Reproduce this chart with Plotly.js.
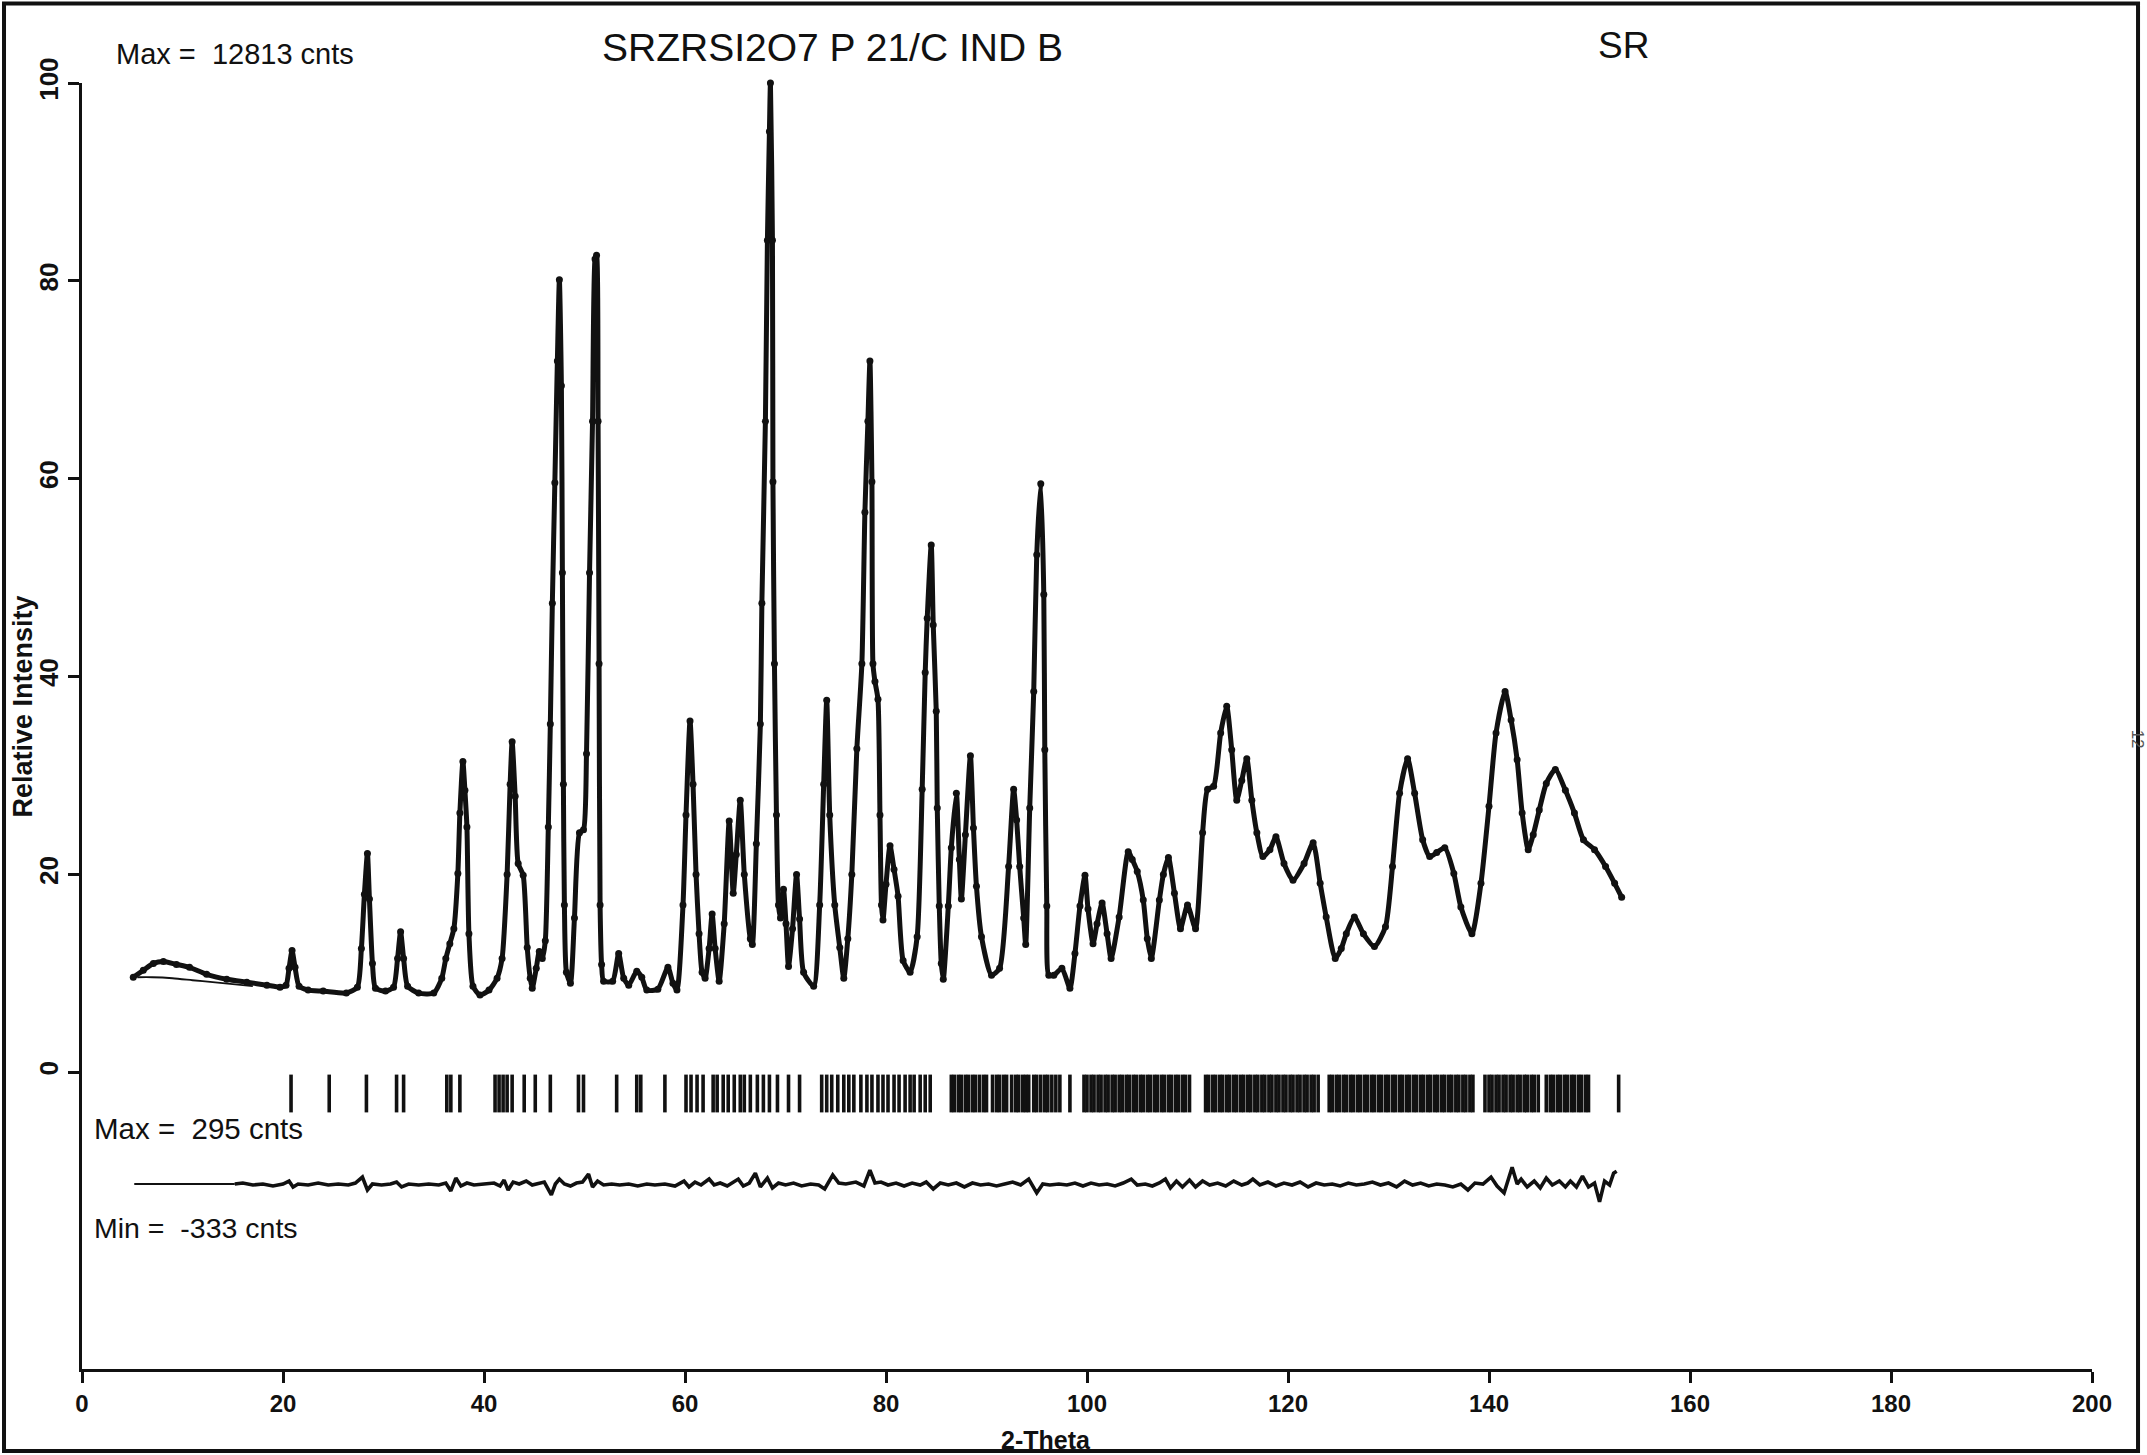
<!DOCTYPE html>
<html>
<head>
<meta charset="utf-8">
<script src="https://cdn.plot.ly/plotly-3.0.1.min.js"></script>
<style>html,body{margin:0;padding:0;background:#fff;}</style>
</head>
<body>
<div id="chart" style="width:2147px;height:1455px;"></div>
<script>
// Observed profile (2-Theta, relative intensity)
const twoTheta = [
  5.1,6.1,7.1,8.1,9.4,10.7,12.4,14.4,16.4,18.4,
  19.7,20.3,20.6,20.9,21.2,21.6,22.5,24.0,26.3,27.4,
  27.8,28.1,28.4,28.6,28.9,29.2,30.2,31.0,31.4,31.7,
  32.0,32.4,33.5,35.0,35.8,36.2,36.6,37.0,37.4,37.6,
  37.9,38.1,38.3,38.5,38.9,39.6,40.5,41.3,41.8,42.3,
  42.6,42.8,43.1,43.4,43.9,44.3,44.6,44.8,45.2,45.5,
  45.8,46.1,46.4,46.6,46.8,47.05,47.3,47.5,47.7,47.8,
  47.9,48.0,48.2,48.6,49.0,49.5,49.9,50.2,50.5,50.8,
  51.05,51.2,51.35,51.45,51.55,51.7,51.9,52.8,53.4,53.9,
  54.4,55.2,55.7,56.2,57.3,58.3,58.8,59.2,59.8,60.1,
  60.5,60.8,61.1,61.4,61.7,62.0,62.4,62.7,63.0,63.4,
  63.9,64.4,64.8,65.1,65.5,65.9,66.5,66.7,67.1,67.5,
  67.65,68.0,68.2,68.4,68.5,68.7,68.75,68.9,69.1,69.3,
  69.5,69.8,70.05,70.3,70.7,71.1,71.4,71.8,72.8,73.4,
  73.8,74.1,74.4,74.9,75.4,75.8,76.2,76.6,77.1,77.6,
  77.9,78.2,78.4,78.6,78.7,78.9,79.2,79.4,79.55,79.7,
  80.0,80.4,80.8,81.2,81.7,82.4,83.1,83.6,83.9,84.1,
  84.5,84.7,85.0,85.1,85.3,85.5,85.7,86.2,86.5,87.0,
  87.3,87.5,87.9,88.4,88.7,89.0,89.5,90.5,91.3,92.2,
  92.7,93.0,93.3,93.7,93.9,94.3,94.7,95.0,95.4,95.7,
  95.8,96.0,96.2,96.7,97.5,98.3,98.8,99.3,99.8,100.1,
  100.6,101.0,101.5,102.0,102.4,103.2,104.1,104.5,105.0,105.6,
  106.0,106.4,107.2,107.6,108.1,108.7,109.3,110.0,110.8,111.5,
  112.0,112.6,113.3,113.9,114.4,114.9,115.4,115.9,116.4,116.9,
  117.5,118.2,118.8,119.6,120.5,121.6,122.5,123.2,123.8,124.7,
  125.3,125.8,126.6,127.5,128.6,129.7,130.4,131.1,131.9,132.6,
  133.4,134.1,134.8,135.6,136.5,137.2,138.3,139.2,140.0,140.7,
  141.6,142.2,142.8,143.3,143.9,144.4,145.0,145.7,146.6,147.6,
  148.5,149.4,150.5,151.6,152.5,153.2
];
const observed = [
  9.6,10.3,11.0,11.2,10.9,10.6,9.9,9.4,9.1,8.8,
  8.6,8.8,10.5,12.3,10.6,8.7,8.3,8.2,8.0,8.6,
  12.5,18.0,22.1,17.5,11.0,8.5,8.2,8.6,11.5,14.2,
  11.5,8.7,8.0,8.0,9.5,11.5,13.0,14.5,20.1,26.2,
  31.4,28.5,24.8,14.0,8.7,7.8,8.3,9.5,11.5,20.0,
  29.1,33.4,27.9,21.1,19.9,12.6,9.5,8.5,10.5,12.2,
  11.5,13.3,24.8,35.2,47.4,59.6,71.9,80.1,69.4,50.5,
  29.1,16.9,10.1,9.0,15.6,24.2,24.5,32.2,50.5,65.8,
  82.2,82.6,65.8,41.3,16.9,10.9,9.2,9.2,12.0,9.5,
  8.8,10.2,9.6,8.3,8.4,10.6,9.0,8.3,16.9,26.0,
  35.5,29.1,20.0,14.0,10.1,9.5,12.5,16.0,12.5,9.2,
  15.0,25.4,18.1,22.0,27.5,20.0,13.5,12.9,23.1,35.2,
  47.4,65.8,84.1,95.1,100,84.1,59.7,41.3,26.0,16.9,
  15.6,18.5,15.0,10.7,14.5,20.0,15.5,10.1,8.7,16.9,
  29.1,37.6,26.0,16.9,12.6,9.5,13.5,20.0,32.7,41.3,
  56.6,65.8,71.9,59.7,41.3,39.5,37.7,26.0,16.9,15.4,
  19.0,22.9,20.5,17.8,11.3,10.1,13.7,28.6,40.4,45.9,
  53.3,45.2,36.5,26.7,16.8,11.0,9.4,16.8,22.7,28.2,
  21.5,17.5,24.0,32.0,24.7,18.8,13.7,9.8,10.5,20.8,
  28.6,25.5,20.8,15.6,12.9,26.7,38.5,52.3,59.5,48.3,
  32.6,16.8,9.8,9.8,10.5,8.5,12.0,16.8,19.9,16.5,
  13.0,15.0,17.1,14.0,11.5,15.7,22.3,21.5,20.3,17.4,
  13.5,11.5,17.4,20.0,21.7,18.1,14.5,16.9,14.5,24.2,
  28.6,28.9,34.3,37.0,32.6,27.5,29.5,31.7,27.5,24.2,
  21.8,22.5,23.8,21.1,19.4,21.1,23.2,19.1,15.7,11.5,
  12.5,14.0,15.7,14.0,12.7,14.7,20.8,28.2,31.7,28.2,
  23.5,21.8,22.2,22.7,20.1,16.7,14.0,19.1,26.9,34.3,
  38.5,35.6,31.6,26.2,22.5,24.0,26.5,29.2,30.6,28.5,
  26.2,23.5,22.5,20.8,19.1,17.7
];

// Calculated profile where it separates from the observed points (low angle)
const calcTwoTheta = [5.5, 7.0, 9.0, 11.0, 13.0, 15.0, 17.0];
const calculated   = [9.6, 9.6, 9.5, 9.3, 9.1, 8.9, 8.7];

// Difference curve (plotted offset below)
const diffTwoTheta = [
  5.2,10,15.2,16,17,18,19,20,20.6,21.0,
  21.5,22.5,23.5,24.5,25.5,26.5,27.2,27.9,28.4,28.9,
  29.8,30.7,31.3,31.8,32.5,33.5,34.5,35.5,36.2,36.7,
  37.2,37.7,38.3,39.0,40.0,41.0,41.6,42.0,42.4,42.9,
  43.5,44.2,44.8,45.5,46.0,46.7,47.1,47.5,48.0,48.6,
  49.2,49.8,50.4,50.8,51.3,51.9,52.7,53.5,54.4,55.3,
  56.2,57.0,58.0,59.0,59.9,60.4,61.0,61.6,62.4,62.9,
  63.5,64.2,65.3,65.8,66.4,67.0,67.5,68.2,68.7,69.3,
  70.0,70.8,71.6,72.5,73.3,73.9,74.7,75.3,76.0,77.0,
  77.8,78.4,78.9,79.5,80.2,81.0,81.8,82.6,83.4,84.0,
  84.7,85.4,86.2,87.0,87.8,88.6,89.4,90.2,91.0,91.8,
  92.6,93.4,94.2,95.0,95.6,96.3,97.2,98.0,98.8,99.6,
  100.4,101.2,102.0,102.8,103.6,104.4,105.0,105.8,106.5,107.2,
  107.8,108.3,108.9,109.5,110.2,110.8,111.5,112.2,113.0,113.8,
  114.6,115.4,116.0,116.5,117.2,118.0,118.8,119.6,120.4,121.2,
  122.0,122.8,123.6,124.4,125.2,126.0,126.8,127.6,128.4,129.2,
  130.0,130.8,131.6,132.4,133.2,134.0,134.8,135.6,136.4,137.2,
  137.9,138.6,139.4,140.2,140.8,141.5,142.3,142.8,143.2,143.8,
  144.5,145.1,145.7,146.3,147.0,147.6,148.1,148.7,149.3,149.9,
  150.5,151.0,151.5,152.0,152.4,152.7
];
const difference = [
  -11.3,-11.3,-11.3,-11.2,-11.4,-11.3,-11.5,-11.3,-11.0,-11.6,
  -11.3,-11.4,-11.2,-11.4,-11.3,-11.4,-11.2,-10.6,-11.9,-11.3,
  -11.4,-11.3,-11.1,-11.6,-11.3,-11.4,-11.3,-11.4,-11.2,-12.0,
  -10.7,-11.5,-11.2,-11.4,-11.3,-11.2,-11.5,-10.9,-11.9,-11.1,
  -11.3,-11.0,-11.4,-11.2,-11.1,-12.4,-11.3,-10.8,-11.3,-11.5,
  -11.2,-11.1,-10.3,-11.6,-11.0,-11.4,-11.3,-11.4,-11.3,-11.5,
  -11.3,-11.4,-11.3,-11.5,-11.0,-11.6,-11.1,-11.4,-10.8,-11.4,
  -11.2,-11.5,-10.8,-11.5,-11.2,-10.2,-11.6,-10.7,-11.7,-11.2,
  -11.4,-11.2,-11.5,-11.3,-11.4,-11.8,-10.4,-11.2,-11.3,-11.1,
  -11.5,-9.9,-11.2,-11.1,-11.4,-11.2,-11.5,-11.2,-11.4,-11.1,
  -11.8,-11.2,-11.4,-11.2,-11.6,-11.2,-11.4,-11.3,-11.5,-11.3,
  -11.1,-11.4,-10.8,-12.2,-11.3,-11.4,-11.3,-11.4,-11.2,-11.5,
  -11.2,-11.4,-11.3,-11.5,-11.2,-10.8,-11.4,-11.3,-11.5,-11.2,
  -10.8,-11.7,-11.0,-11.6,-10.9,-11.6,-11.0,-11.4,-11.2,-11.5,
  -11.0,-11.4,-11.2,-10.8,-11.4,-11.1,-11.5,-11.2,-11.4,-11.1,
  -11.6,-11.2,-11.4,-11.3,-11.5,-11.2,-11.4,-11.3,-11.1,-11.4,
  -11.2,-11.6,-11.0,-11.4,-11.2,-11.5,-11.3,-11.4,-11.6,-11.3,
  -11.9,-11.2,-11.3,-10.6,-11.5,-12.2,-9.6,-11.3,-10.8,-11.6,
  -11.0,-11.7,-10.7,-11.4,-11.0,-11.6,-11.0,-11.6,-10.5,-11.6,
  -11.2,-13.1,-11.0,-11.4,-10.2,-10.0
];

// Bragg reflection positions (2-Theta)
const reflections = [
  20.8,24.6,28.3,31.3,32.0,36.3,36.7,37.6,41.1,41.5,41.9,42.3,42.8,44.0,45.1,46.6,
  49.4,49.9,53.2,55.2,55.6,58.0,
  60.1,60.6,61.2,61.8,62.8,63.2,63.8,64.3,64.9,65.5,65.9,66.5,67.2,67.8,68.4,69.2,70.3,71.4,
  73.6,74.1,74.6,75.2,75.8,76.3,76.8,77.5,78.1,78.6,79.2,79.7,80.2,80.8,81.3,81.9,82.4,82.8,83.4,83.9,84.4,
  86.5,86.8,87.2,87.5,87.9,88.2,88.6,88.9,89.3,89.7,90.0,90.6,91.0,91.3,91.7,92.0,92.5,92.9,93.2,93.6,
  93.9,94.2,94.7,95.0,95.4,95.8,96.1,96.5,96.9,97.3,98.3,
  99.7,100.0,100.4,100.7,101.1,101.4,101.8,102.1,102.5,102.8,103.2,103.5,103.9,104.2,104.6,104.9,
  105.3,105.6,106.0,106.3,106.7,107.0,107.4,107.7,108.1,108.4,108.8,109.1,109.5,109.8,110.2,
  111.8,112.1,112.5,112.8,113.2,113.5,113.9,114.2,114.6,114.9,115.3,115.6,116.0,116.3,116.7,117.0,
  117.4,117.7,118.1,118.4,118.8,119.1,119.5,119.8,120.2,120.5,120.9,121.2,121.6,121.9,122.3,122.6,123.0,
  124.1,124.4,124.8,125.1,125.5,125.8,126.2,126.5,126.9,127.2,127.6,127.9,128.3,128.6,129.0,129.3,
  129.7,130.0,130.4,130.7,131.1,131.4,131.8,132.1,132.5,132.8,133.2,133.5,133.9,134.2,134.6,134.9,
  135.3,135.6,136.0,136.3,136.7,137.0,137.4,137.7,138.1,138.4,
  139.6,140.0,140.3,140.7,141.0,141.4,141.7,142.1,142.4,142.8,143.1,143.5,143.8,144.2,144.5,144.9,
  145.7,146.1,146.4,146.8,147.1,147.5,147.8,148.2,148.5,148.9,149.2,149.6,149.9,
  152.9
];

const xTickValues = [0, 20, 40, 60, 80, 100, 120, 140, 160, 180, 200];
const yTickValues = [0, 20, 40, 60, 80, 100];

const titleText = 'SRZRSI2O7 P 21/C IND B';
const sampleLabel = 'SR';
const maxObsLabel = 'Max =  12813 cnts';
const maxDiffLabel = 'Max =  295 cnts';
const minDiffLabel = 'Min =  -333 cnts';
const xTitle = '2-Theta';
const yTitle = 'Relative Intensity';

const INK = '#111';
const TICK_ROW_Y = -2.15;
const FONT = 'Liberation Sans, Arial, Helvetica, sans-serif';
const NARROW = 'Liberation Sans Narrow, Arial Narrow, Liberation Sans, Arial, sans-serif';

const traces = [
  {
    x: calcTwoTheta, y: calculated, type: 'scatter', mode: 'lines',
    line: {color: INK, width: 1.8, shape: 'spline', smoothing: 0.8}, cliponaxis: false, hoverinfo: 'skip'
  },
  {
    x: twoTheta, y: observed, type: 'scatter', mode: 'lines+markers',
    line: {color: INK, width: 5, shape: 'spline', smoothing: 0.6}, marker: {color: INK, size: 7},
    cliponaxis: false, hoverinfo: 'skip'
  },
  {
    x: diffTwoTheta.slice(0, 3), y: difference.slice(0, 3), type: 'scatter', mode: 'lines',
    line: {color: INK, width: 1.8}, cliponaxis: false, hoverinfo: 'skip'
  },
  {
    x: diffTwoTheta.slice(2), y: difference.slice(2), type: 'scatter', mode: 'lines',
    line: {color: INK, width: 3.6}, cliponaxis: false, hoverinfo: 'skip'
  },
  {
    x: reflections, y: reflections.map(() => TICK_ROW_Y), type: 'scatter', mode: 'markers',
    marker: {symbol: 'line-ns-open', size: 27, color: INK, line: {color: INK, width: 3.6}},
    cliponaxis: false, hoverinfo: 'skip'
  }
];

const axisCommon = {
  showgrid: false, zeroline: false, showline: true, linecolor: INK, linewidth: 3,
  ticks: 'outside', ticklen: 11, tickwidth: 3, tickcolor: INK,
  tickfont: {family: FONT, size: 24, color: INK, weight: 'bold'},
  fixedrange: true
};

const layout = {
  width: 2147, height: 1455,
  margin: {l: 82, r: 55, t: 83, b: 86, pad: 0},
  paper_bgcolor: '#fff', plot_bgcolor: '#fff',
  showlegend: false,
  xaxis: Object.assign({}, axisCommon, {range: [0, 200], tickmode: 'array', tickvals: xTickValues}),
  yaxis: Object.assign({}, axisCommon, {range: [-30, 100], tickmode: 'array', tickvals: yTickValues, tickangle: -90,
    tickfont: {family: FONT, size: 26, color: INK, weight: 'bold'}}),
  annotations: [
    {text: maxObsLabel, xref: 'paper', yref: 'paper', x: 0.016, y: 1.0223, xanchor: 'left', yanchor: 'middle',
     showarrow: false, font: {family: FONT, size: 29, color: INK}},
    {text: titleText, xref: 'paper', yref: 'paper', x: 0.3735, y: 1.0277, xanchor: 'center', yanchor: 'middle',
     showarrow: false, font: {family: FONT, size: 39, color: INK}},
    {text: sampleLabel, xref: 'paper', yref: 'paper', x: 0.767, y: 1.0292, xanchor: 'center', yanchor: 'middle',
     showarrow: false, font: {family: FONT, size: 37, color: INK}},
    {text: maxDiffLabel, xref: 'paper', yref: 'paper', x: 0.005, y: 0.1869, xanchor: 'left', yanchor: 'middle',
     showarrow: false, font: {family: FONT, size: 29.5, color: INK}},
    {text: minDiffLabel, xref: 'paper', yref: 'paper', x: 0.005, y: 0.11, xanchor: 'left', yanchor: 'middle',
     showarrow: false, font: {family: FONT, size: 28.5, color: INK}},
    {text: yTitle, xref: 'paper', yref: 'paper', x: -0.0294, y: 0.515, xanchor: 'center', yanchor: 'middle',
     textangle: -90, showarrow: false, font: {family: NARROW, size: 27, color: INK, weight: 'bold'}},
    {text: xTitle, xref: 'paper', yref: 'paper', x: 0.4795, y: -0.0554, xanchor: 'center', yanchor: 'middle',
     showarrow: false, font: {family: FONT, size: 25, color: INK, weight: 'bold'}},
    {text: '12', xref: 'paper', yref: 'paper', x: 1.0225, y: 0.49, xanchor: 'center', yanchor: 'middle',
     textangle: 90, showarrow: false, font: {family: FONT, size: 17, color: '#555'}}
  ],
  shapes: [
    {type: 'rect', xref: 'paper', yref: 'paper', x0: -0.0388, x1: 1.0229, y0: -0.0638, y1: 1.0618,
     line: {color: INK, width: 4}, fillcolor: 'rgba(0,0,0,0)'}
  ]
};

Plotly.newPlot('chart', traces, layout, {staticPlot: true, displayModeBar: false});
</script>
</body>
</html>
